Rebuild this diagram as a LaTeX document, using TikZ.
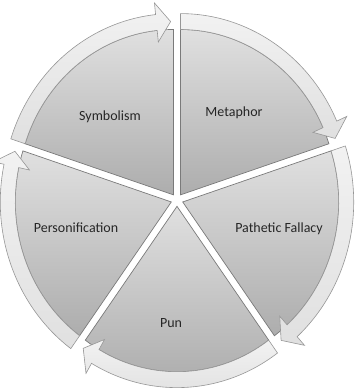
\documentclass[tikz,border=0pt]{standalone}
\usepackage{fontspec}
\setmainfont{Carlito}

\definecolor{wedgetop}{HTML}{E0E0E0}
\definecolor{wedgebot}{HTML}{ADADAD}
\definecolor{wedgeline}{HTML}{7A7A7A}
\definecolor{bandtop}{HTML}{F2F2F2}
\definecolor{bandbot}{HTML}{E0E0E0}
\definecolor{bandline}{HTML}{969696}
\definecolor{labeltext}{HTML}{262626}

\tikzset{
  wedge/.style={draw=wedgeline, line width=0.7, top color=wedgetop, bottom color=wedgebot},
  band/.style={draw=bandline, line width=0.6, top color=bandtop, bottom color=bandbot, line join=miter},
  lbl/.style={font=\fontsize{14}{16}\selectfont, text=labeltext, inner sep=0pt}
}

% radii of the pie, the arrow band and the arrow head
\def\rin{156}
\def\rout{171}
\def\rmid{163.5}
\def\rheadout{182}
\def\rheadin{145}

% one pie segment with its clockwise arrow band
% #1 = counter-clockwise edge angle, #2 = clockwise edge angle
\newcommand\cycseg[2]{%
  \pgfmathsetmacro\segmid{(#1+#2)/2}%
  \pgfmathsetmacro\segtip{#2+1}%
  \pgfmathsetmacro\segback{#2+6}%
  \begin{scope}[shift={(\segmid:6)}]
    \path[wedge] (0,0) -- (#1:\rin) arc[start angle=#1, end angle=#2, radius=\rin] -- cycle;
    \path[band] (#1:\rout) arc[start angle=#1, end angle=\segback, radius=\rout]
      -- (\segback:\rheadout) -- (\segtip:\rmid) -- (\segback:\rheadin)
      -- (\segback:\rin) arc[start angle=\segback, end angle=#1, radius=\rin] -- cycle;
  \end{scope}}

\begin{document}
\begin{tikzpicture}[x=1pt, y=1pt]
  \useasboundingbox (0,0) rectangle (362,-390);
  \begin{scope}[shift={(177,-200)}]
    \begin{scope}[yscale=1.06]
      \cycseg{90}{18}
      \cycseg{18}{-54}
      \cycseg{-54}{-126}
      \cycseg{-126}{-198}
      \cycseg{-198}{-270}
    \end{scope}
  \end{scope}
  \node[lbl] (metaphor) at (234,-113) {Metaphor};
  \node[lbl] (pathetic) at (279,-229) {Pathetic Fallacy};
  \node[lbl] (pun) at (171,-323) {Pun};
  \node[lbl] (personification) at (76,-228) {Personification};
  \node[lbl] (symbolism) at (110,-117) {Symbolism};
\end{tikzpicture}
\end{document}
